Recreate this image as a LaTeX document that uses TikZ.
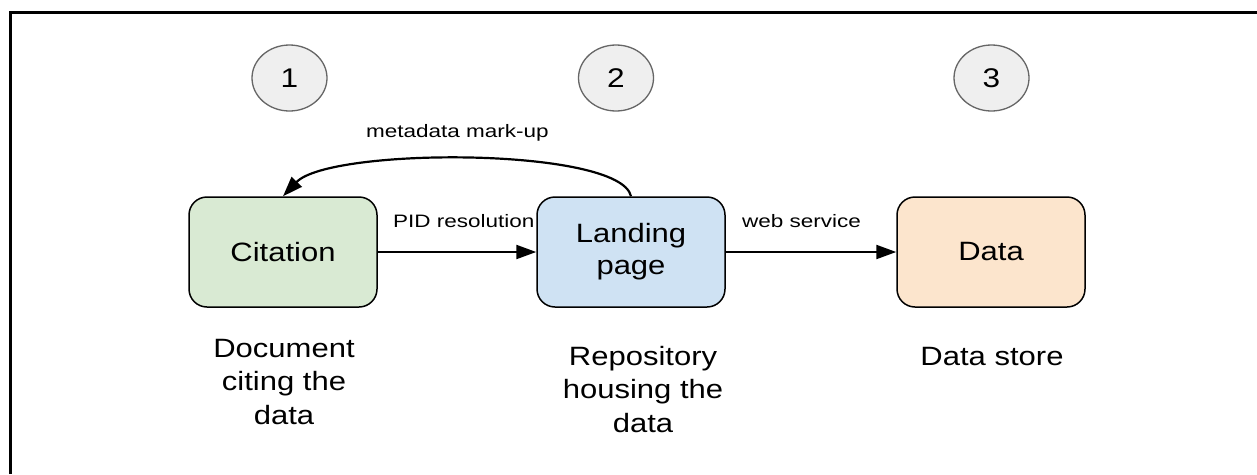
\documentclass[tikz,border=0pt]{standalone}
\usepackage{fontspec}
\setmainfont{Liberation Sans}
\newfontfamily\bigfont{Liberation Sans}[FakeStretch=1.17]
\newfontfamily\smallfont{Liberation Sans}[FakeStretch=1.25]
\usetikzlibrary{arrows.meta,shapes.geometric}
\definecolor{citfill}{HTML}{D9EAD3}
\definecolor{landfill}{HTML}{CFE2F3}
\definecolor{datafill}{HTML}{FCE5CD}
\definecolor{numfill}{HTML}{EFEFEF}
\definecolor{numdraw}{HTML}{666666}
\begin{document}
\begin{tikzpicture}[x=1pt,y=-1pt,
  numnode/.style={ellipse, draw=numdraw, line width=1.3pt, fill=numfill,
    minimum width=75pt, minimum height=66pt, inner sep=0pt,
    font=\bigfont\fontsize{27}{32}\selectfont},
  box/.style={rectangle, rounded corners=18pt, draw=black, line width=1.5pt,
    minimum width=188pt, minimum height=110pt, inner sep=0pt, align=center,
    font=\bigfont\fontsize{26.5}{32}\selectfont},
  caption/.style={align=center, inner sep=0pt,
    font=\bigfont\fontsize{26.5}{33.5}\selectfont},
  edgelabel/.style={inner sep=0pt, anchor=base west,
    font=\smallfont\fontsize{18}{22}\selectfont},
  flow/.style={line width=2.2pt, -{Triangle[length=20pt,width=14pt]}},
]
\useasboundingbox (0,0) rectangle (1257,474);
\fill[white] (0,0) rectangle (1257,474);
% frame
\coordinate (fbl) at (10.5,474);
\coordinate (ftl) at (10.5,12.5);
\coordinate (ftr) at (1257,12.5);
\draw[line width=3pt] (fbl) -- (ftl) -- (ftr);

% numbers
\node[numnode] (n1) at (289.5,78) {1};
\node[numnode] (n2) at (616,78) {2};
\node[numnode] (n3) at (991.5,78) {3};

% boxes
\node[box, fill=citfill] (cit) at (283,252) {Citation};
\node[box, fill=landfill] (land) at (631,252) {Landing\\page};
\node[box, fill=datafill] (data) at (991,252) {Data};

% connectors
\draw[flow] (cit.east) -- (land.west);
\draw[flow] (land.east) -- (data.west);
\draw[flow] (land.north) .. controls (620,147) and (330,147) .. (cit.north);

% connector labels
\node[edgelabel] (lpid) at (393,227) {PID resolution};
\node[edgelabel] (lweb) at (742,227) {web service};
\node[edgelabel] (lmeta) at (366,137) {metadata mark-up};

% captions
\node[caption, anchor=north] (c1) at (284,339) {Document\\citing the\\data};
\node[caption, anchor=north] (c2) at (643,346) {Repository\\housing the\\data};
\node[caption, anchor=base] (c3) at (992,365) {Data store};
\end{tikzpicture}
\end{document}
